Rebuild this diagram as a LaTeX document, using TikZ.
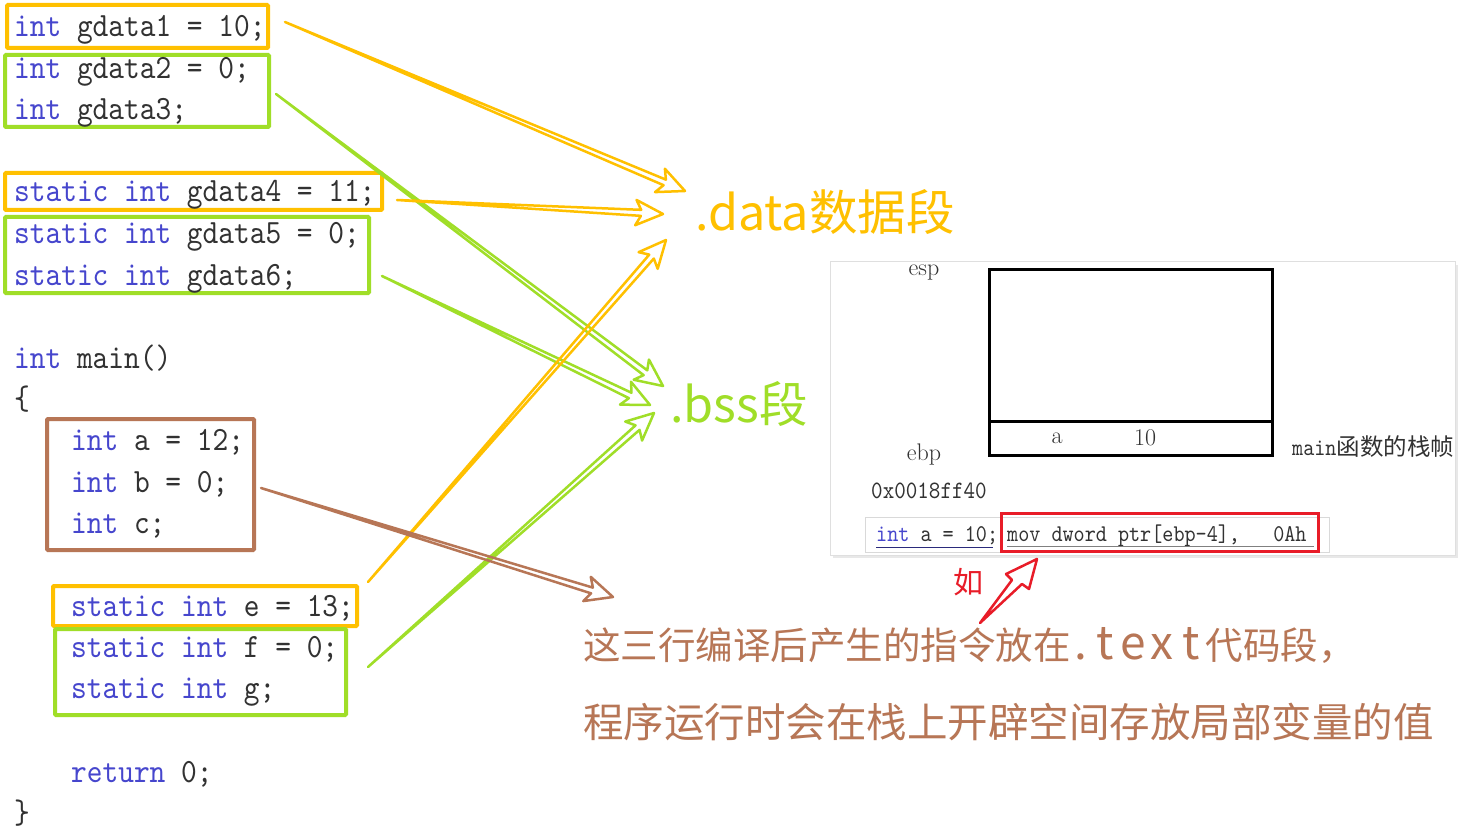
\documentclass[tikz,border=0pt]{standalone}
\usepackage{fontspec}
\usetikzlibrary{arrows.meta,calc}
\newfontfamily\cjk{Noto Sans CJK SC}
\newfontfamily\codefont[FakeStretch=0.88]{lmmono10-regular.otf}
\definecolor{orng}{RGB}{255,192,0}
\definecolor{grn}{RGB}{160,222,40}
\definecolor{brn}{RGB}{183,118,86}
\definecolor{kw}{RGB}{70,70,205}
\definecolor{idt}{RGB}{50,50,50}
\definecolor{redc}{RGB}{232,28,40}
\newcommand\kwd[1]{\textcolor{kw}{#1}}
% open double-line arrow: colour, start, tip
\newcommand\segarrow[3]{%
  \draw[#1, line width=2.5pt, line join=round]
    (#2) -- ($(#3)!22.2pt!7.8:(#2)$) -- ($(#3)!30pt!25:(#2)$) -- (#3)
    -- ($(#3)!30pt!-25:(#2)$) -- ($(#3)!22.2pt!-7.8:(#2)$) -- cycle;}
\newcommand\lb[2]{\makebox[#1][c]{#2}}
\tikzset{
  codeline/.style={anchor=base west, inner sep=0pt, text=idt, font=\codefont\fontsize{34}{40}\selectfont},
  smallcode/.style={anchor=base west, inner sep=0pt, text=idt, font=\codefont\fontsize{24}{28}\selectfont},
  serifl/.style={inner sep=0pt, text=idt, font=\fontsize{24}{28}\selectfont},
  obox/.style={draw=orng, line width=4pt, rounded corners=1pt},
  gbox/.style={draw=grn, line width=4pt, rounded corners=1pt},
  bbox/.style={draw=brn, line width=4pt, rounded corners=1pt},
  bigl/.style={inner sep=0pt, anchor=west, font=\cjk\fontsize{48.5}{56}\selectfont},
  note/.style={inner sep=0pt, anchor=west, text=brn, font=\cjk\fontsize{40.5}{48}\selectfont},
}
\begin{document}
\begin{tikzpicture}[x=1pt,y=-1pt]
\useasboundingbox (0,0) rectangle (1469,834);
\fill[white] (0,0) rectangle (1469,834);

% boxes around code
\draw[obox] (7,5) rectangle (268,48);
\draw[gbox] (5,55) rectangle (269,127);
\draw[obox] (5,173) rectangle (382,210);
\draw[gbox] (5,217) rectangle (369,293);
\draw[bbox] (47,419) rectangle (254,550);
\draw[obox] (53,586) rectangle (357,626);
\draw[gbox] (55,629) rectangle (346,715);

% code
\node[codeline] (c1) at (14,37) {\kwd{int} gdata1 = 10;};
\node[codeline] (c2) at (14,79) {\kwd{int} gdata2 = 0;};
\node[codeline] (c3) at (14,120) {\kwd{int} gdata3;};
\node[codeline] (c4) at (14,202) {\kwd{static} \kwd{int} gdata4 = 11;};
\node[codeline] (c5) at (14,244) {\kwd{static} \kwd{int} gdata5 = 0;};
\node[codeline] (c6) at (14,285) {\kwd{static} \kwd{int} gdata6;};
\node[codeline] (c7) at (14,368) {\kwd{int} main()};
\node[codeline] (c8) at (14,409) {\{};
\node[codeline] (c9) at (71,450) {\kwd{int} a = 12;};
\node[codeline] (c10) at (71,492) {\kwd{int} b = 0;};
\node[codeline] (c11) at (71,533) {\kwd{int} c;};
\node[codeline] (c12) at (71,616) {\kwd{static} \kwd{int} e = 13;};
\node[codeline] (c13) at (71,657) {\kwd{static} \kwd{int} f = 0;};
\node[codeline] (c14) at (71,698) {\kwd{static} \kwd{int} g;};
\node[codeline] (c15) at (71,782) {\kwd{return} 0;};
\node[codeline] (c16) at (14,823) {\}};

% segment labels
\node[bigl, text=orng] (data) at (695,212) {.data数据段};
\node[bigl, text=grn] (bss) at (670,404) {.bss段};

% arrow endpoints
\coordinate (s1) at (285,22);  \coordinate (t1) at (685,191);
\coordinate (s2) at (397,200); \coordinate (t2) at (663,214);
\coordinate (s3) at (368,582); \coordinate (t3) at (666,240);
\coordinate (s4) at (276,94);  \coordinate (t4) at (663,386);
\coordinate (s5) at (382,276); \coordinate (t5) at (650,405);
\coordinate (s6) at (368,667); \coordinate (t6) at (654,413);
\coordinate (s7) at (261,488); \coordinate (t7) at (613,597);

\segarrow{grn}{s4}{t4}
\segarrow{grn}{s5}{t5}
\segarrow{grn}{s6}{t6}
\segarrow{orng}{s1}{t1}
\segarrow{orng}{s2}{t2}
\segarrow{orng}{s3}{t3}
\segarrow{brn}{s7}{t7}

% stack frame panel
\fill[gray!18] (833,265) rectangle (1458,558);
\fill[white, draw=gray!25, line width=1pt] (830,262) rectangle (1455,555);
\draw[line width=3pt] (989,270) rectangle (1272,455);
\draw[line width=3pt] (989,421) -- (1272,421);
\node[serifl] (esp) at (924,273) {esp};
\node[serifl] (ebp) at (924,455) {ebp};
\node[serifl] (va) at (1057,438) {a};
\node[serifl] (v10) at (1145,438) {10};
\node[inner sep=0pt, anchor=west, text=idt] (frame) at (1292,447) {{\codefont\fontsize{24}{28}\selectfont main}{\cjk\fontsize{23.5}{28}\selectfont 函数的栈帧}};
\node[anchor=base west, inner sep=0pt, text=idt, font=\codefont\fontsize{25}{30}\selectfont] (addr) at (871,498) {0x0018ff40};

\draw[gray!30, line width=1pt] (865,517) rectangle (1329,552);
\node[smallcode] (asmsrc) at (876,541) {\kwd{int} a = 10;};
\node[smallcode] (asm) at (1007,541) {mov dword ptr[ebp-4],~~~0Ah};
\draw[kw!60!black, line width=1pt] (876,547) -- (993,547);
\draw[gray, line width=1pt] (1007,546) -- (1314,546);
\draw[redc, line width=3pt] (1001,513) rectangle (1318,551);

% red "如" arrow
\node[inner sep=0pt, text=redc, font=\cjk\fontsize{30}{34}\selectfont] (ru) at (968,582) {如};
\draw[redc, line width=2.5pt, line join=round] (980,623) -- (1012,580) -- (1006,574) -- (1037,559) -- (1029,589) -- (1022,584) -- cycle;

% bottom notes
\node[note] (n1) at (583,645) {{\fontsize{37.5}{44}\selectfont 这三行编译后产生的指令放在}{\fontsize{46}{50}\selectfont\lb{20pt}{.}\lb{28pt}{t}\lb{29pt}{e}\lb{29pt}{x}\lb{29pt}{t}}{\fontsize{37.5}{44}\selectfont 代码段，}};
\node[note] (n2) at (583,722) {程序运行时会在栈上开辟空间存放局部变量的值};
\end{tikzpicture}
\end{document}
